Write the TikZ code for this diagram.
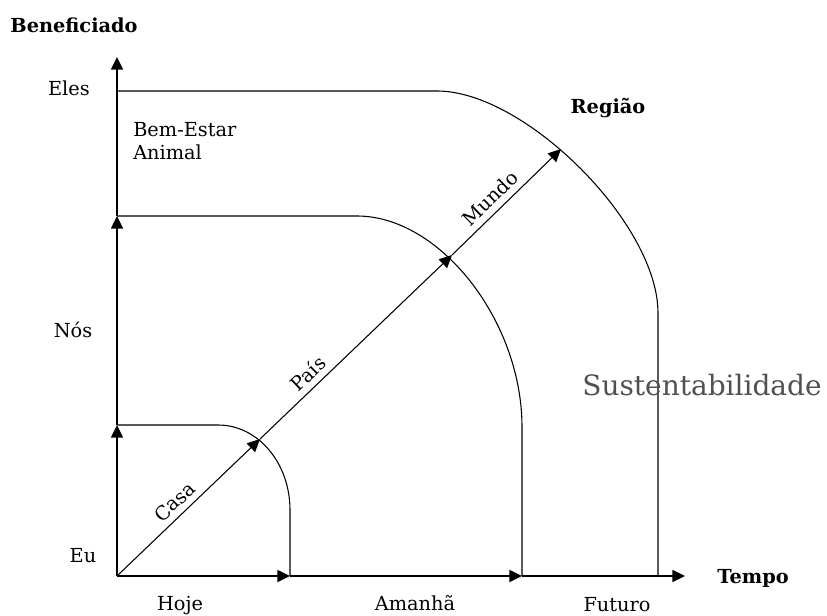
\documentclass[tikz,border=0pt]{standalone}
\usepackage{fontspec}
\setmainfont{DejaVu Serif}
\usetikzlibrary{arrows.meta}
\definecolor{sustgray}{HTML}{505050}
\begin{document}
\begin{tikzpicture}[x=0.75pt,y=-0.75pt,
  axisline/.style={line width=1.1pt,-{Triangle[length=9.5pt,width=9pt]}},
  diagline/.style={line width=0.8pt,-{Triangle[length=9.5pt,width=9pt]}},
  curveline/.style={line width=0.8pt},
  lbl/.style={font=\fontsize{14.5}{17.5}\selectfont,inner sep=0pt},
  blbl/.style={font=\fontsize{14.5}{17.5}\selectfont\bfseries,inner sep=0pt},
  slbl/.style={font=\fontsize{14.5}{17.5}\selectfont,sloped,above,inner sep=4.5pt}]
\useasboundingbox (0,0) rectangle (827,616);
% axes points
\coordinate (O) at (117,576);
\coordinate (Y1) at (117,425);
\coordinate (Y2) at (117,216);
\coordinate (Y3) at (117,57);
\coordinate (E) at (117,91);
\coordinate (X1) at (290,576);
\coordinate (X2) at (522,576);
\coordinate (F) at (658,576);
\coordinate (X3) at (685,576);
\coordinate (D1) at (260,439);
\coordinate (D2) at (452,255);
\coordinate (D3) at (561,149);
% curves
\draw[curveline] (Y1) -- (218,425) .. controls (258,425) and (290,463) .. (290,510) -- (X1);
\draw[curveline] (Y2) -- (357,216) .. controls (440,216) and (522,321) .. (522,427) -- (X2);
\draw[curveline] (E) -- (438,91) .. controls (526,92) and (658,224) .. (658,313) -- (F);
% axes
\draw[axisline] (O) -- (X1);
\draw[axisline] (X1) -- (X2);
\draw[axisline] (X2) -- (X3);
\draw[axisline] (O) -- (Y1);
\draw[axisline] (Y1) -- (Y2);
\draw[axisline] (Y2) -- (Y3);
% diagonal
\draw[diagline] (O) -- node[slbl,pos=0.47] (casa) {Casa} (D1);
\draw[diagline] (D1) -- node[slbl,pos=0.30] (pais) {País} (D2);
\draw[diagline] (D2) -- node[slbl,pos=0.44] (mundo) {Mundo} (D3);
% labels
\node[blbl] (benef) at (74,25) {Beneficiado};
\node[lbl,anchor=east] (eles) at (90,88) {Eles};
\node[lbl] (nos) at (73,330) {Nós};
\node[lbl] (eu) at (83,556) {Eu};
\node[lbl] (hoje) at (180,606) {Hoje};
\node[lbl] (amanha) at (415,603) {Amanhã};
\node[lbl] (futuro) at (617,605) {Futuro};
\node[blbl] (tempo) at (753,578) {Tempo};
\node[blbl] (regiao) at (608,108) {Região};
\node[lbl,anchor=north west,align=left] (bem) at (133,122) {Bem-Estar\\Animal};
\node[font=\fontsize{21}{24}\selectfont,text=sustgray,inner sep=0pt] (sust) at (702,385) {Sustentabilidade};
\end{tikzpicture}
\end{document}
